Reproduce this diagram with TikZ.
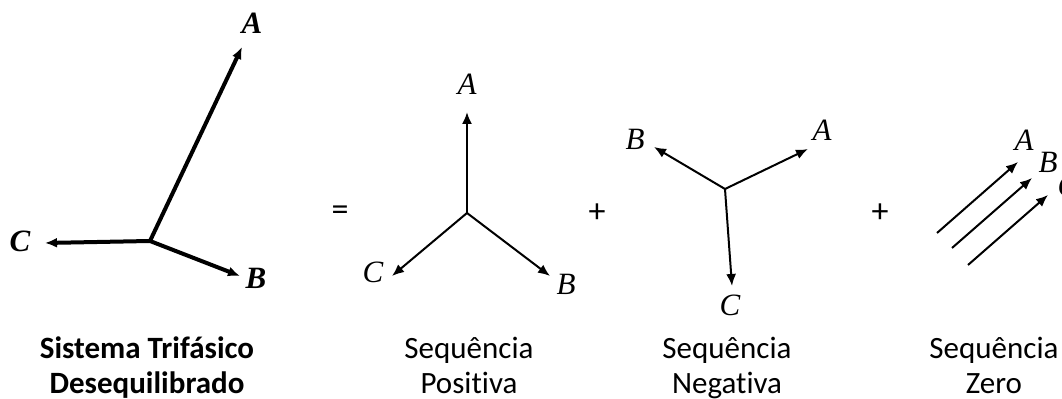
\documentclass[tikz,border=0pt]{standalone}
\usepackage{fontspec}
\setmainfont{Carlito}[Ligatures=NoCommon]
\newfontfamily\phasefont{Liberation Serif}
\usepackage{tikz}
\usetikzlibrary{arrows.meta}

\begin{document}
\begin{tikzpicture}[x=0.5pt,y=-0.5pt,>={Latex[length=6pt,width=5pt]},
vec/.style={->,line width=1pt},
bigvec/.style={->,line width=2pt},
lbl/.style={inner sep=0pt,font=\fontsize{15.5}{17}\selectfont\phasefont\itshape},
biglbl/.style={inner sep=0pt,font=\fontsize{15.5}{17}\selectfont\phasefont\bfseries\itshape},
op/.style={inner sep=0pt,font=\fontsize{17}{19}\selectfont},
caption/.style={align=center,inner sep=0pt,font=\fontsize{15.5}{17.5}\selectfont}]
\clip (0,0) rectangle (1062,399);
% unbalanced system
\coordinate (o1) at (150,241);
\coordinate (a1) at (242,47);
\coordinate (b1) at (240,276);
\coordinate (c1) at (45,243);
\draw[bigvec] (o1)--(a1); \draw[bigvec] (o1)--(b1); \draw[bigvec] (o1)--(c1);
\node[biglbl] (la1) at (252,23) {A};
\node[biglbl] (lb1) at (256,278) {B};
\node[biglbl] (lc1) at (20,241) {C};
\node[op] (eq) at (340,213) {=};
% positive sequence
\coordinate (o2) at (467,213);
\coordinate (a2) at (467,112);
\coordinate (b2) at (550,276);
\coordinate (c2) at (392,276);
\draw[vec] (o2)--(a2); \draw[vec] (o2)--(b2); \draw[vec] (o2)--(c2);
\node[lbl] (la2) at (467,84) {A};
\node[lbl] (lb2) at (566,284) {B};
\node[lbl] (lc2) at (373,272) {C};
\node[op] (plus1) at (597,213) {+};
% negative sequence
\coordinate (o3) at (725,189);
\coordinate (a3) at (808,149);
\coordinate (b3) at (654,147);
\coordinate (c3) at (732,286);
\draw[vec] (o3)--(a3); \draw[vec] (o3)--(b3); \draw[vec] (o3)--(c3);
\node[lbl] (la3) at (822,130) {A};
\node[lbl] (lb3) at (635,139) {B};
\node[lbl] (lc3) at (730,305) {C};
\node[op] (plus2) at (880,213) {+};
% zero sequence
\coordinate (s4a) at (937,233); \coordinate (a4) at (1018,162);
\coordinate (s4b) at (952,248); \coordinate (b4) at (1032,178);
\coordinate (s4c) at (968,265); \coordinate (c4) at (1048,195);
\draw[vec] (s4a)--(a4); \draw[vec] (s4b)--(b4); \draw[vec] (s4c)--(c4);
\node[lbl] (la4) at (1024,140) {A};
\node[lbl] (lb4) at (1048,162) {B};
\node[lbl] (lc4) at (1068,186) {C};
% captions
\node[caption,font=\fontsize{15.5}{17.5}\selectfont\bfseries] (cap1) at (147,369) {\strut Sistema Trifásico\\\strut Desequilibrado};
\node[caption] (cap2) at (469,369) {\strut Sequência\\\strut Positiva};
\node[caption] (cap3) at (727,369) {\strut Sequência\\\strut Negativa};
\node[caption] (cap4) at (994,369) {\strut Sequência\\\strut Zero};
\end{tikzpicture}
\end{document}
